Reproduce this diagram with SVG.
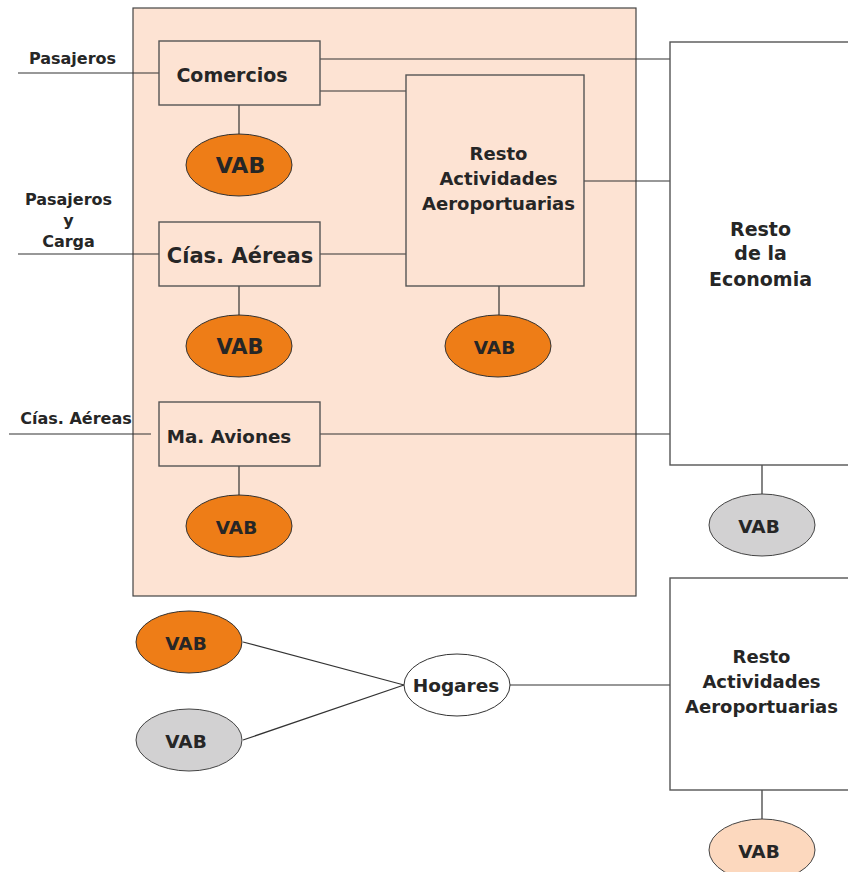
<svg xmlns="http://www.w3.org/2000/svg" width="848" height="872" viewBox="0 0 848 872">
<style>
.bg{fill:#FDE3D3;stroke:#444;stroke-width:1.2}
.box{fill:#FDE3D3;stroke:#555;stroke-width:1.4}
.wbox{fill:#FFFFFF;stroke:#555;stroke-width:1.4}
.or{fill:#EE7D17;stroke:#333;stroke-width:1}
.gr{fill:#D2D1D2;stroke:#444;stroke-width:1}
.pk{fill:#FCD8BE;stroke:#444;stroke-width:1}
.wh{fill:#FFFFFF;stroke:#333;stroke-width:1}
.ln{stroke:#333;stroke-width:1.2;fill:none}
text{font-family:"DejaVu Sans","Liberation Sans",Arial,sans-serif;font-weight:bold;fill:#262626;text-anchor:middle}
</style>
<rect class="bg" x="133" y="8" width="503" height="588"/>
<g id="connectors">
<line class="ln" x1="18" y1="73" x2="159" y2="73"/>
<line class="ln" x1="320" y1="59" x2="670" y2="59"/>
<line class="ln" x1="320" y1="91" x2="406" y2="91"/>
<line class="ln" x1="584" y1="181" x2="670" y2="181"/>
<line class="ln" x1="499" y1="286" x2="499" y2="315"/>
<line class="ln" x1="239" y1="105" x2="239" y2="134"/>
<line class="ln" x1="18" y1="254" x2="159" y2="254"/>
<line class="ln" x1="320" y1="254" x2="406" y2="254"/>
<line class="ln" x1="239" y1="286" x2="239" y2="315"/>
<line class="ln" x1="9" y1="434" x2="151" y2="434"/>
<line class="ln" x1="320" y1="434" x2="670" y2="434"/>
<line class="ln" x1="239" y1="466" x2="239" y2="495"/>
<line class="ln" x1="762" y1="465" x2="762" y2="495"/>
<line class="ln" x1="243" y1="642" x2="404" y2="685"/>
<line class="ln" x1="243" y1="740" x2="404" y2="685"/>
<line class="ln" x1="510" y1="685" x2="670" y2="685"/>
<line class="ln" x1="762" y1="790" x2="762" y2="820"/>
</g>
<g id="label-pasajeros"><text x="72.5" y="64" font-size="16">Pasajeros</text></g>
<g id="label-pasajeros-carga">
<text x="68.5" y="205" font-size="16">Pasajeros</text>
<text x="68.5" y="226" font-size="16">y</text>
<text x="68.5" y="247" font-size="16">Carga</text>
</g>
<g id="label-cias"><text x="76" y="424" font-size="16">Cías. Aéreas</text></g>
<g id="comercios"><rect class="box" x="159" y="41" width="161" height="64"/><text x="232" y="82" font-size="19">Comercios</text></g>
<g id="vab-comercios"><ellipse class="or" cx="239" cy="165" rx="53" ry="31"/><text x="240.5" y="173" font-size="22">VAB</text></g>
<g id="resto-act-1"><rect class="box" x="406" y="75" width="178" height="211"/>
<text x="498.5" y="160" font-size="18">Resto</text>
<text x="498.5" y="185" font-size="18">Actividades</text>
<text x="498.5" y="210" font-size="18">Aeroportuarias</text></g>
<g id="vab-resto-act-1"><ellipse class="or" cx="498" cy="346" rx="53" ry="31"/><text x="494.5" y="354" font-size="18.5">VAB</text></g>
<g id="cias-aereas"><rect class="box" x="159" y="222" width="161" height="64"/><text x="240" y="263" font-size="21">Cías. Aéreas</text></g>
<g id="vab-cias"><ellipse class="or" cx="239" cy="346" rx="53" ry="31"/><text x="240" y="354" font-size="21">VAB</text></g>
<g id="ma-aviones"><rect class="box" x="159" y="402" width="161" height="64"/><text x="229" y="443" font-size="18.3">Ma. Aviones</text></g>
<g id="vab-aviones"><ellipse class="or" cx="239" cy="526" rx="53" ry="31"/><text x="236.5" y="534" font-size="18.5">VAB</text></g>
<g id="resto-economia"><rect class="wbox" x="670" y="42" width="190" height="423"/>
<text x="760.5" y="236" font-size="19">Resto</text>
<text x="760.5" y="260" font-size="19">de la</text>
<text x="760.5" y="286" font-size="19">Economia</text></g>
<g id="vab-economia"><ellipse class="gr" cx="762" cy="525" rx="53" ry="31"/><text x="759" y="533" font-size="18.5">VAB</text></g>
<g id="vab-orange-h"><ellipse class="or" cx="189" cy="642" rx="53" ry="31"/><text x="186" y="650" font-size="18.5">VAB</text></g>
<g id="vab-gray-h"><ellipse class="gr" cx="189" cy="740" rx="53" ry="31"/><text x="186" y="748" font-size="18.5">VAB</text></g>
<g id="hogares"><ellipse class="wh" cx="457" cy="685" rx="53" ry="31"/><text x="456" y="692" font-size="18.5">Hogares</text></g>
<g id="resto-act-2"><rect class="wbox" x="670" y="578" width="190" height="212"/>
<text x="761.5" y="663" font-size="18">Resto</text>
<text x="761.5" y="688" font-size="18">Actividades</text>
<text x="761.5" y="713" font-size="18">Aeroportuarias</text></g>
<g id="vab-resto-act-2"><ellipse class="pk" cx="762" cy="850" rx="53" ry="31"/><text x="759" y="858" font-size="18.5">VAB</text></g>
</svg>
